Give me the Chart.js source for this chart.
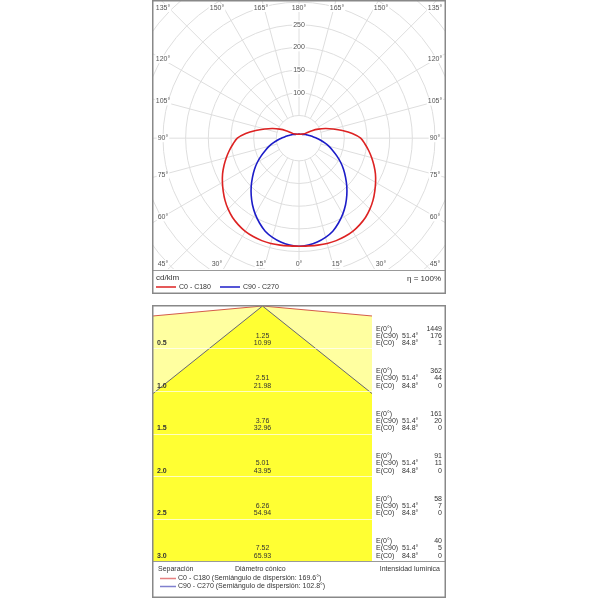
<!DOCTYPE html>
<html>
<head>
<meta charset="utf-8">
<script src="https://cdn.jsdelivr.net/npm/chart.js@4.4.0/dist/chart.umd.min.js"></script>
<style>
  html, body { margin: 0; padding: 0; background: #fff; }
  body { width: 600px; height: 600px; position: relative; overflow: hidden; }
  canvas { position: absolute; }
  #polar { left: 152px; top: 0px; }
  #cone { left: 152px; top: 305px; }
</style>
</head>
<body>
<canvas id="polar" width="294" height="294"></canvas>
<canvas id="cone" width="294" height="293"></canvas>
<script>
// Curva fotométrica (cd/klm) según el ángulo gamma
const gammaAngles = [0, 5, 10, 15, 20, 25, 30, 35, 40, 45, 50, 55, 60, 65, 70, 75, 80, 85, 90, 95, 100, 105, 110, 115, 120, 125, 130, 140, 150, 165, 180];
const c0c180 = [238, 238, 239, 240, 240, 239, 237, 233, 228, 221, 213, 204, 195, 186, 176, 166, 156, 146, 136, 118, 97, 78, 62, 47, 33, 21, 15, 12, 10, 9, 9];
const c90c270 = [238, 236, 232, 226, 218, 206, 193, 179, 164, 149, 134, 120, 106, 92, 79, 68, 57, 47, 39, 32, 27, 23, 20, 18, 16, 14, 13, 11, 10, 9, 9];
const ringLabels = [100, 150, 200, 250];
const angleLabels = [0, 15, 30, 45, 60, 75, 90, 105, 120, 135, 150, 165, 180];
const ringStep = 50;
const ringMax = 700;

// Diagrama de cono
const separations = [0.5, 1.0, 1.5, 2.0, 2.5, 3.0];
const diamC90 = ['1.25', '2.51', '3.76', '5.01', '6.26', '7.52'];
const diamC0 = ['10.99', '21.98', '32.96', '43.95', '54.94', '65.93'];
const eZero = [1449, 362, 161, 91, 58, 40];
const eC90 = [176, 44, 20, 11, 7, 5];
const eC0 = [1, 0, 0, 0, 0, 0];
const spreadC0 = 169.6;
const spreadC90 = 102.8;

const FONT = '"Liberation Sans", Arial, sans-serif';
const RED = '#dd2222';
const BLUE = '#1c1cc8';

// Convierte (gamma, intensidad) a puntos x/y, lado izquierdo y derecho
function polarPoints(values) {
    let pts = [];
    for (let i = gammaAngles.length - 1; i >= 0; i--) {
        let a = gammaAngles[i] * Math.PI / 180;
        pts.push({ x: -values[i] * Math.sin(a), y: -values[i] * Math.cos(a) });
    }
    for (let i = 1; i < gammaAngles.length; i++) {
        let a = gammaAngles[i] * Math.PI / 180;
        pts.push({ x: values[i] * Math.sin(a), y: -values[i] * Math.cos(a) });
    }
    return pts;
}

function labelBox(ctx, text, x, y) {
    let w = ctx.measureText(text).width;
    ctx.fillStyle = '#fff';
    ctx.fillRect(x - w / 2 - 1, y - 4, w + 2, 8);
    ctx.fillStyle = '#555';
    ctx.fillText(text, x, y);
}

const polarGrid = {
    id: 'polarGrid',
    beforeDatasetsDraw(chart) {
        const { ctx, chartArea: a, scales: { x, y } } = chart;
        const cx = x.getPixelForValue(0), cy = y.getPixelForValue(0);
        const k = x.getPixelForValue(1) - cx;
        ctx.save();
        ctx.beginPath();
        ctx.rect(a.left, a.top, a.width, a.height);
        ctx.clip();
        ctx.strokeStyle = '#dedede';
        ctx.lineWidth = 1;
        for (let r = ringStep; r <= ringMax; r += ringStep) {
            ctx.beginPath();
            ctx.arc(cx, cy, r * k, 0, Math.PI * 2);
            ctx.stroke();
        }
        for (let g = 0; g < 360; g += 15) {
            let t = g * Math.PI / 180;
            ctx.beginPath();
            ctx.moveTo(cx + Math.sin(t) * ringStep * k, cy + Math.cos(t) * ringStep * k);
            ctx.lineTo(cx + Math.sin(t) * ringMax * k, cy + Math.cos(t) * ringMax * k);
            ctx.stroke();
        }
        ctx.restore();
    },
    afterDatasetsDraw(chart) {
        const { ctx, chartArea: a, scales: { x, y } } = chart;
        const cx = x.getPixelForValue(0), cy = y.getPixelForValue(0);
        ctx.save();
        ctx.font = '7px ' + FONT;
        ctx.textAlign = 'center';
        ctx.textBaseline = 'middle';
        ringLabels.forEach(r => labelBox(ctx, String(r), cx, y.getPixelForValue(r)));

        // etiquetas de ángulo en el borde
        const hx = 137, hy = 142;
        angleLabels.forEach(g => {
            let t = g * Math.PI / 180;
            let s = Math.sin(t), c = Math.cos(t);
            let d = Math.min(Math.abs(s) > 1e-6 ? hx / Math.abs(s) : 1e9, Math.abs(c) > 1e-6 ? hy / Math.abs(c) : 1e9);
            let sides = (g === 0 || g === 180) ? [1] : [-1, 1];
            sides.forEach(side => {
                let px = cx + side * s * d;
                let py = cy + c * d;
                px = Math.max(a.left + 10, Math.min(a.right - 10, px));
                py = Math.max(a.top + 7, Math.min(a.bottom - 5, py));
                labelBox(ctx, g + '°', px, py);
            });
        });
        ctx.restore();
    },
    afterDraw(chart) {
        const { ctx, chartArea: a, width, height } = chart;
        ctx.save();
        ctx.strokeStyle = '#999';
        ctx.lineWidth = 1;
        ctx.beginPath();
        ctx.moveTo(0, a.bottom + 1.5);
        ctx.lineTo(width, a.bottom + 1.5);
        ctx.stroke();
        ctx.strokeStyle = '#888';
        ctx.lineWidth = 1.5;
        ctx.strokeRect(0.75, 0.75, width - 1.5, height - 1.5);

        ctx.fillStyle = '#333';
        ctx.textBaseline = 'middle';
        ctx.font = '8px ' + FONT;
        ctx.textAlign = 'left';
        ctx.fillText('cd/klm', 4, a.bottom + 9);
        ctx.textAlign = 'right';
        ctx.fillText('η = 100%', width - 5, a.bottom + 10);

        ctx.font = '7px ' + FONT;
        ctx.textAlign = 'left';
        chart.data.datasets.forEach((ds, i) => {
            let lx = 4 + i * 64;
            ctx.strokeStyle = ds.borderColor;
            ctx.lineWidth = 1.5;
            ctx.beginPath();
            ctx.moveTo(lx, a.bottom + 18);
            ctx.lineTo(lx + 20, a.bottom + 18);
            ctx.stroke();
            ctx.fillStyle = '#333';
            ctx.fillText(ds.label, lx + 23, a.bottom + 18);
        });
        ctx.restore();
    }
};

new Chart(document.getElementById('polar'), {
    type: 'line',
    data: {
        datasets: [
            { label: 'C0 - C180', data: polarPoints(c0c180), borderColor: RED, borderWidth: 1.6, pointRadius: 0, tension: 0.3, fill: false },
            { label: 'C90 - C270', data: polarPoints(c90c270), borderColor: BLUE, borderWidth: 1.6, pointRadius: 0, tension: 0.3, fill: false }
        ]
    },
    options: {
        responsive: false,
        animation: false,
        events: [],
        layout: { padding: { left: 1, right: 1, top: 1, bottom: 25 } },
        scales: {
            x: { type: 'linear', min: -322, max: 322, display: false },
            y: { type: 'linear', min: -288, max: 302, display: false }
        },
        plugins: { legend: { display: false }, tooltip: { enabled: false } }
    },
    plugins: [polarGrid]
});

// ---- diagrama de cono ----
const coneEdge = 1.29;
const coneDepth = separations[separations.length - 1];

function conePoints(spread) {
    let d = coneEdge / Math.tan(spread / 2 * Math.PI / 180);
    return [{ x: -coneEdge, y: -d }, { x: 0, y: 0 }, { x: coneEdge, y: -d }];
}

const coneText = {
    id: 'coneText',
    afterDatasetsDraw(chart) {
        const { ctx, chartArea: a, scales: { x, y }, width } = chart;
        const cx = x.getPixelForValue(0);
        const colX = a.right + 4, angX = a.right + 30, valX = width - 4;
        ctx.save();
        ctx.strokeStyle = 'rgba(255,255,255,0.7)';
        ctx.lineWidth = 1;
        separations.slice(0, -1).forEach(s => {
            let py = Math.round(y.getPixelForValue(-s)) + 0.5;
            ctx.beginPath();
            ctx.moveTo(a.left, py);
            ctx.lineTo(a.right, py);
            ctx.stroke();
        });
        ctx.textBaseline = 'middle';
        ctx.fillStyle = '#333';
        separations.forEach((s, i) => {
            let py = y.getPixelForValue(-s);
            ctx.font = 'bold 7px ' + FONT;
            ctx.textAlign = 'left';
            ctx.fillText(s.toFixed(1), a.left + 4, py - 5);
            ctx.font = '7px ' + FONT;
            ctx.textAlign = 'center';
            ctx.fillText(diamC90[i], cx, py - 12.5);
            ctx.fillText(diamC0[i], cx, py - 5);
            ctx.textAlign = 'left';
            ctx.fillText('E(0°)', colX, py - 19.5);
            ctx.fillText('E(C90)', colX, py - 12.5);
            ctx.fillText((spreadC90 / 2).toFixed(1) + '°', angX, py - 12.5);
            ctx.fillText('E(C0)', colX, py - 5);
            ctx.fillText((spreadC0 / 2).toFixed(1) + '°', angX, py - 5);
            ctx.textAlign = 'right';
            ctx.fillText(String(eZero[i]), valX, py - 19.5);
            ctx.fillText(String(eC90[i]), valX, py - 12.5);
            ctx.fillText(String(eC0[i]), valX, py - 5);
        });
        ctx.restore();
    },
    afterDraw(chart) {
        const { ctx, chartArea: a, width, height } = chart;
        ctx.save();
        ctx.strokeStyle = '#999';
        ctx.lineWidth = 1;
        ctx.beginPath();
        ctx.moveTo(0, a.bottom + 0.5);
        ctx.lineTo(width, a.bottom + 0.5);
        ctx.stroke();
        ctx.strokeStyle = '#888';
        ctx.lineWidth = 1.5;
        ctx.strokeRect(0.75, 0.75, width - 1.5, height - 1.5);

        ctx.fillStyle = '#333';
        ctx.textBaseline = 'middle';
        ctx.font = '7px ' + FONT;
        ctx.textAlign = 'left';
        ctx.fillText('Separación', 6, a.bottom + 8);
        ctx.fillText('Diámetro cónico', 83, a.bottom + 8);
        ctx.textAlign = 'right';
        ctx.fillText('Intensidad lumínica', width - 6, a.bottom + 8);
        ctx.textAlign = 'left';
        const legend = [
            ['C0 - C180 (Semiángulo de dispersión: ' + spreadC0.toFixed(1) + '°)', 'rgba(215,60,60,0.65)'],
            ['C90 - C270 (Semiángulo de dispersión: ' + spreadC90.toFixed(1) + '°)', 'rgba(60,60,180,0.65)']
        ];
        legend.forEach(([txt, col], i) => {
            let ly = a.bottom + 17.5 + i * 8;
            ctx.strokeStyle = col;
            ctx.beginPath();
            ctx.moveTo(8, ly);
            ctx.lineTo(24, ly);
            ctx.stroke();
            ctx.fillStyle = '#333';
            ctx.fillText(txt, 26, ly);
        });
        ctx.restore();
    }
};

new Chart(document.getElementById('cone'), {
    type: 'line',
    data: {
        datasets: [
            { label: 'C90 - C270', data: conePoints(spreadC90), borderColor: 'rgba(50,50,120,0.75)', borderWidth: 1, pointRadius: 0, tension: 0, fill: { value: -coneDepth }, backgroundColor: '#ffff33' },
            { label: 'C0 - C180', data: conePoints(spreadC0), borderColor: 'rgba(200,50,40,0.8)', borderWidth: 1, pointRadius: 0, tension: 0, fill: { value: -coneDepth }, backgroundColor: '#ffffa0' }
        ]
    },
    options: {
        responsive: false,
        animation: false,
        events: [],
        layout: { padding: { left: 1, right: 74, top: 1, bottom: 37 } },
        scales: {
            x: { type: 'linear', min: -coneEdge, max: coneEdge, display: false },
            y: { type: 'linear', min: -coneDepth, max: 0, display: false }
        },
        plugins: { legend: { display: false }, tooltip: { enabled: false } }
    },
    plugins: [coneText]
});
</script>
</body>
</html>
